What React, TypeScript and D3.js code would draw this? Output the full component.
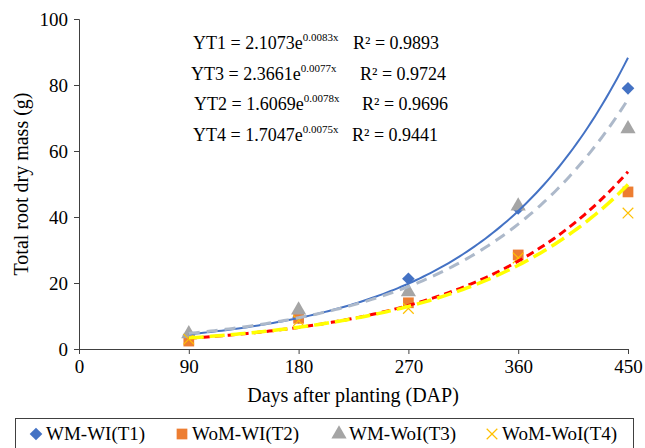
import React, { useEffect, useRef } from 'react';
import * as d3 from 'd3';

// days after planting
const days = [90, 180, 270, 360, 450];

const t1Values = [4.2, 9.6, 21.3, 42.6, 79];
const t2Values = [2.4, 9.3, 14, 28.5, 47.6];
const t3Values = [4.6, 11.8, 17.3, 43.3, 66.7];
const t4Values = [3, 8.6, 12.3, 27.6, 41.2];

// exponential trendline coefficients shown on the chart: y = a * e^(b x)
const trendA = [2.1073, 1.6069, 2.3661, 1.7047];
const trendB = [0.0083, 0.0078, 0.0077, 0.0075];

const seriesNames = ['WM-WI(T1)', 'WoM-WI(T2)', 'WM-WoI(T3)', 'WoM-WoI(T4)'];
const markerColors = ['#4472C4', '#ED7D31', '#A5A5A5', '#FFC000'];
const lineColors = ['#4472C4', '#FF0000', '#ADB9CA', '#FFFF00'];
const lineDash = ['', '8,5', '11,7', '15,6'];
const lineWidth = [2, 3, 3, 3.5];

// equation labels, in the order they appear
const eqLabels = ['YT1 = 2.1073e', 'YT3 = 2.3661e', 'YT2 = 1.6069e', 'YT4 = 1.7047e'];
const eqExponents = ['0.0083x', '0.0077x', '0.0078x', '0.0075x'];
const eqR2 = ['R² = 0.9893', 'R² = 0.9724', 'R² = 0.9696', 'R² = 0.9441'];

const xTicks = [0, 90, 180, 270, 360, 450];
const yTicks = [0, 20, 40, 60, 80, 100];

const font = '"Liberation Serif", "Times New Roman", serif';

// square diamond (equal width and height), like the spreadsheet marker
const squareDiamond = {
  draw(ctx: any, size: number) {
    const r = Math.sqrt(size / 2);
    ctx.moveTo(0, -r);
    ctx.lineTo(r, 0);
    ctx.lineTo(0, r);
    ctx.lineTo(-r, 0);
    ctx.closePath();
  },
};

export default function App() {
  const ref = useRef<SVGSVGElement | null>(null);

  useEffect(() => {
    const svg = d3.select(ref.current);
    svg.selectAll('*').remove();

    const x = d3.scaleLinear().domain([0, 450]).range([79, 628]);
    const y = d3.scaleLinear().domain([0, 100]).range([349, 19]);

    // y axis
    const yAxis = svg.append('g').attr('transform', 'translate(79,0)');
    yAxis.call(d3.axisLeft(y).tickValues(d3.range(0, 101, 10)).tickSize(5).tickFormat(() => ''));
    yAxis.call(d3.axisLeft(y).tickValues(yTicks).tickSize(5).tickPadding(6));
    yAxis.selectAll('path, line').attr('stroke', '#404040');
    yAxis.selectAll('text').attr('font-family', font).attr('font-size', 19).attr('fill', '#000');

    // x axis
    const xAxis = svg.append('g').attr('transform', 'translate(0,349)');
    xAxis.call(d3.axisBottom(x).tickValues(xTicks).tickSize(5).tickPadding(6));
    xAxis.selectAll('path, line').attr('stroke', '#404040');
    xAxis.selectAll('text').attr('font-family', font).attr('font-size', 19).attr('fill', '#000');

    // axis titles
    svg.append('text')
      .attr('x', 353).attr('y', 402)
      .attr('text-anchor', 'middle')
      .attr('font-family', font).attr('font-size', 20)
      .text('Days after planting (DAP)');
    svg.append('text')
      .attr('transform', 'translate(28,184) rotate(-90)')
      .attr('text-anchor', 'middle')
      .attr('font-family', font).attr('font-size', 20)
      .text('Total root dry mass (g)');

    const values = [t1Values, t2Values, t3Values, t4Values];
    const symbols: any[] = [squareDiamond, d3.symbolSquare, d3.symbolTriangle, d3.symbolX];
    const sizes = [80, 115, 100, 75];

    // markers
    values.forEach((vals, s) => {
      const sym = d3.symbol().type(symbols[s]).size(sizes[s]);
      const g = svg.append('g');
      g.selectAll('path')
        .data(vals)
        .enter()
        .append('path')
        .attr('transform', (d, i) => `translate(${x(days[i])},${y(d)})`)
        .attr('d', sym() as string)
        .attr('fill', s === 3 ? 'none' : markerColors[s])
        .attr('stroke', s === 3 ? markerColors[s] : 'none')
        .attr('stroke-width', 1.2);
    });

    // trendlines
    const line = d3.line<number[]>().x(d => x(d[0])).y(d => y(d[1]));
    const xs = d3.range(90, 451, 3);
    trendA.forEach((a, s) => {
      const pts = xs.map(v => [v, a * Math.exp(trendB[s] * v)]);
      svg.append('path')
        .attr('d', line(pts) as string)
        .attr('fill', 'none')
        .attr('stroke', lineColors[s])
        .attr('stroke-width', lineWidth[s])
        .attr('stroke-dasharray', lineDash[s]);
    });

    // equations
    const eqX = [193, 191, 194, 193];
    const r2X = [353, 360, 362, 352];
    eqLabels.forEach((lab, i) => {
      const t = svg.append('text')
        .attr('y', 49 + i * 30.5)
        .attr('font-family', font).attr('font-size', 18);
      t.append('tspan').attr('x', eqX[i]).text(lab);
      t.append('tspan').attr('dy', -8).attr('font-size', 11).text(eqExponents[i]);
      t.append('tspan').attr('x', r2X[i]).attr('dy', 8).text(eqR2[i]);
    });

    // legend
    svg.append('rect')
      .attr('x', 15.5).attr('y', 418.5)
      .attr('width', 618).attr('height', 40)
      .attr('fill', 'none').attr('stroke', '#404040');
    const legX = [36, 182, 339, 492];
    seriesNames.forEach((name, s) => {
      const sym = d3.symbol().type(symbols[s]).size(sizes[s]);
      svg.append('path')
        .attr('transform', `translate(${legX[s]},434)`)
        .attr('d', sym() as string)
        .attr('fill', s === 3 ? 'none' : markerColors[s])
        .attr('stroke', s === 3 ? markerColors[s] : 'none')
        .attr('stroke-width', 1.2);
      svg.append('text')
        .attr('x', legX[s] + 10).attr('y', 440)
        .attr('font-family', font).attr('font-size', 19)
        .text(name);
    });
  }, []);

  return (
    <svg
      ref={ref}
      width={645}
      height={448}
      style={{ position: 'absolute', left: 0, top: 0, background: '#fff' }}
    />
  );
}
